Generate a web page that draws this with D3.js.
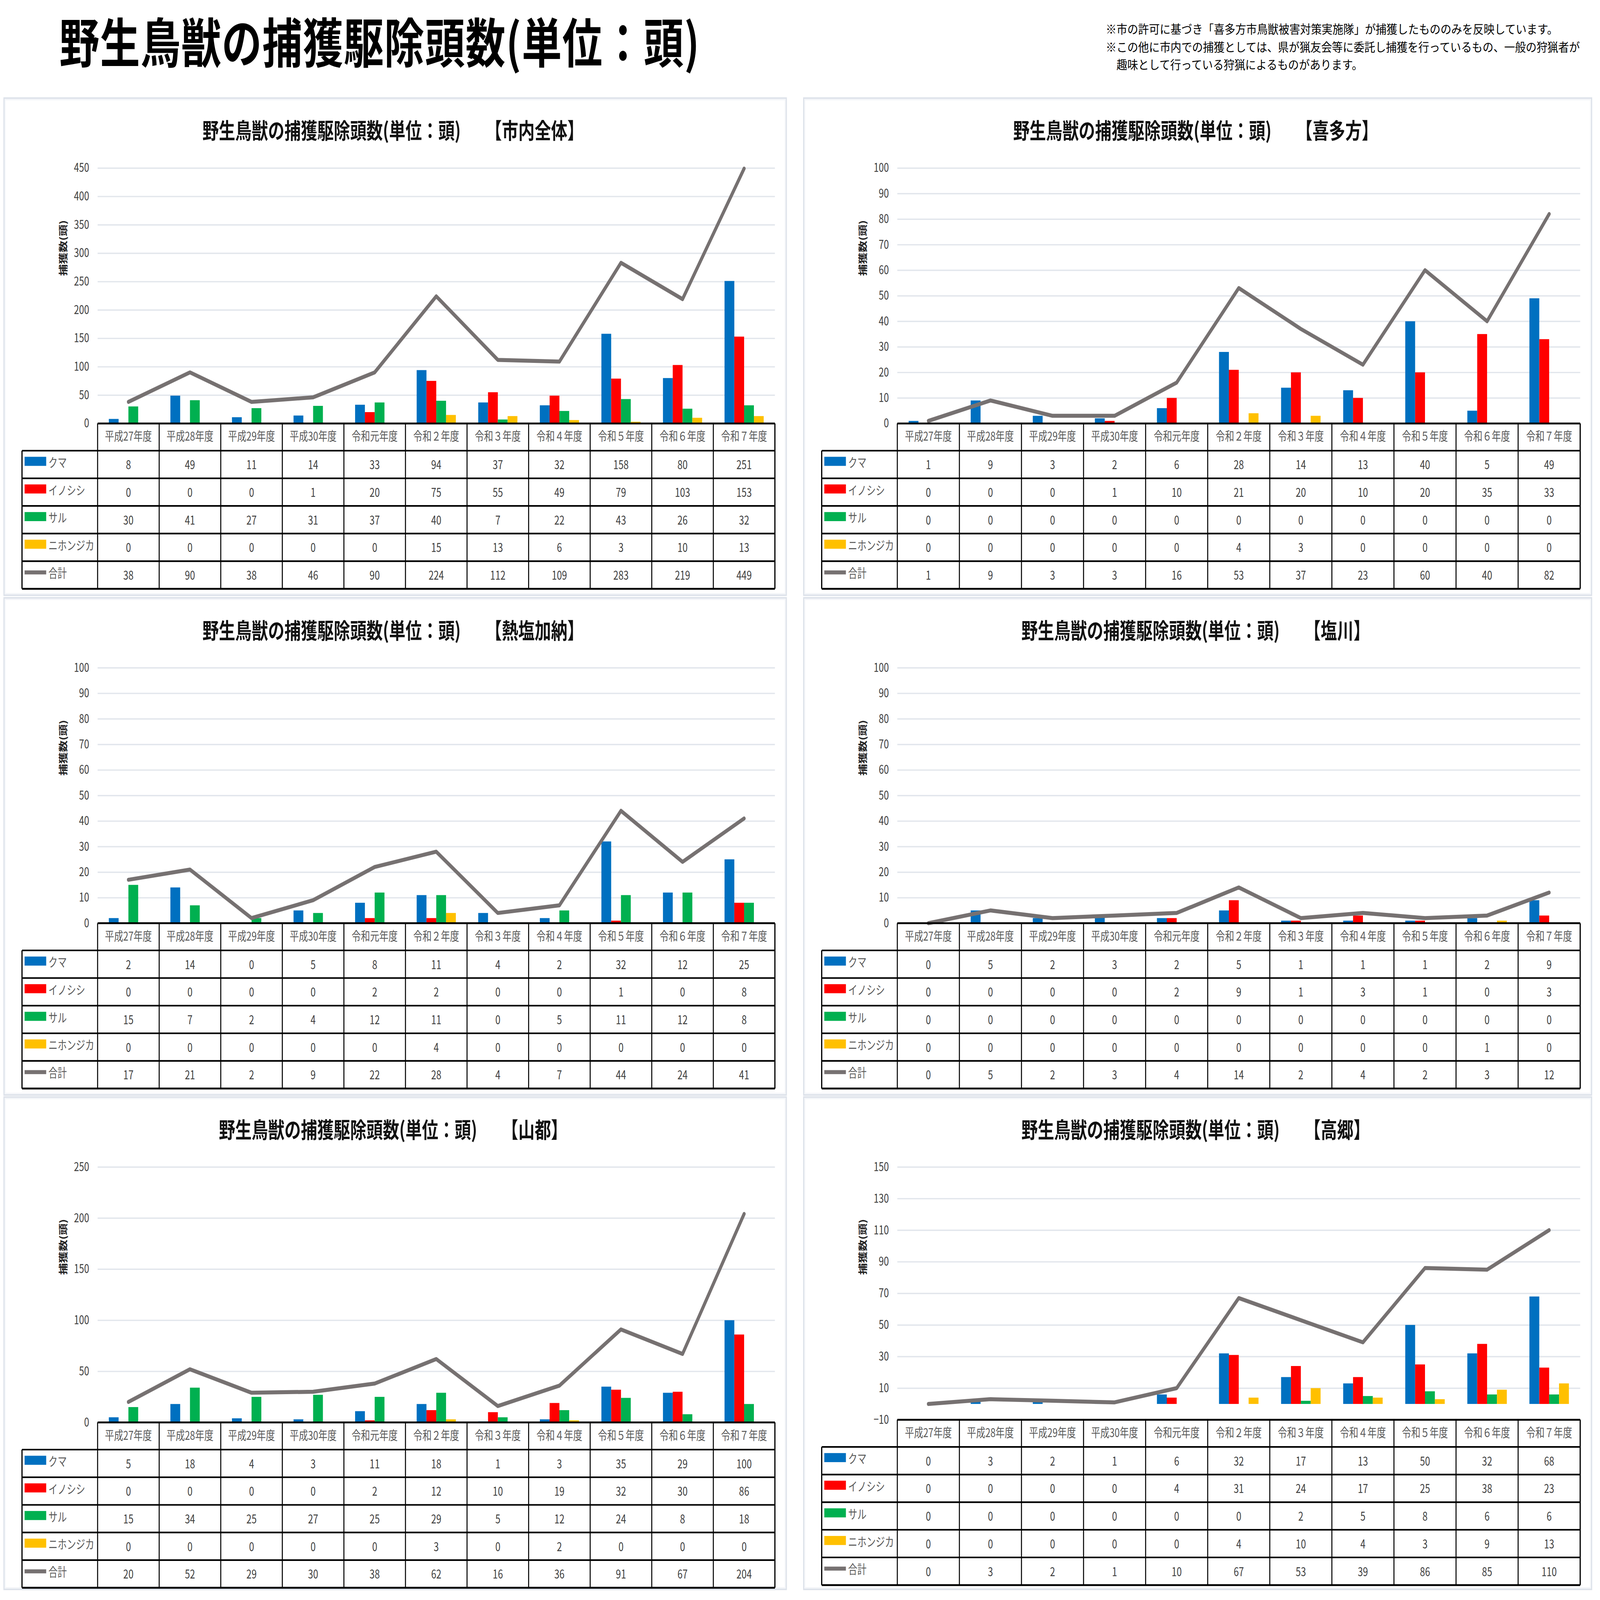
<!DOCTYPE html>
<html lang="ja">
<head>
<meta charset="utf-8">
<script src="https://cdn.jsdelivr.net/npm/d3@7/dist/d3.min.js"></script>
<style>
  html, body { margin: 0; padding: 0; background: #fff; width: 100%; height: 100%; overflow: hidden; }
  svg { display: block; width: 100vw; height: 100vh; }
  text { font-family: "Noto Sans CJK JP", "Noto Sans", sans-serif; }
</style>
</head>
<body>
<svg id="chart" viewBox="0 0 7999 6000" preserveAspectRatio="none"></svg>
<script>
// ---------- DATA ----------
const categories = ["平成27年度","平成28年度","平成29年度","平成30年度","令和元年度","令和２年度","令和３年度","令和４年度","令和５年度","令和６年度","令和７年度"];
const seriesNames = ["クマ","イノシシ","サル","ニホンジカ"];
const totalName = "合計";

const mainTitle = "野生鳥獣の捕獲駆除頭数(単位：頭)";
const panelTitleBase = "野生鳥獣の捕獲駆除頭数(単位：頭)";
const yAxisTitle = "捕獲数(頭)";
const notes = [
  "※市の許可に基づき「喜多方市鳥獣被害対策実施隊」が捕獲したもののみを反映しています。",
  "※この他に市内での捕獲としては、県が猟友会等に委託し捕獲を行っているもの、一般の狩猟者が",
  "　趣味として行っている狩猟によるものがあります。"
];

// 市内全体
const zentaiKuma     = [8,49,11,14,33,94,37,32,158,80,251];
const zentaiInoshishi= [0,0,0,1,20,75,55,49,79,103,153];
const zentaiSaru     = [30,41,27,31,37,40,7,22,43,26,32];
const zentaiShika    = [0,0,0,0,0,15,13,6,3,10,13];
const zentaiTotal    = [38,90,38,46,90,224,112,109,283,219,449];
const zentaiTicks    = [0,50,100,150,200,250,300,350,400,450];

// 喜多方
const kitakataKuma     = [1,9,3,2,6,28,14,13,40,5,49];
const kitakataInoshishi= [0,0,0,1,10,21,20,10,20,35,33];
const kitakataSaru     = [0,0,0,0,0,0,0,0,0,0,0];
const kitakataShika    = [0,0,0,0,0,4,3,0,0,0,0];
const kitakataTotal    = [1,9,3,3,16,53,37,23,60,40,82];
const kitakataTicks    = [0,10,20,30,40,50,60,70,80,90,100];

// 熱塩加納
const atsushioKuma     = [2,14,0,5,8,11,4,2,32,12,25];
const atsushioInoshishi= [0,0,0,0,2,2,0,0,1,0,8];
const atsushioSaru     = [15,7,2,4,12,11,0,5,11,12,8];
const atsushioShika    = [0,0,0,0,0,4,0,0,0,0,0];
const atsushioTotal    = [17,21,2,9,22,28,4,7,44,24,41];
const atsushioTicks    = [0,10,20,30,40,50,60,70,80,90,100];

// 塩川
const shiokawaKuma     = [0,5,2,3,2,5,1,1,1,2,9];
const shiokawaInoshishi= [0,0,0,0,2,9,1,3,1,0,3];
const shiokawaSaru     = [0,0,0,0,0,0,0,0,0,0,0];
const shiokawaShika    = [0,0,0,0,0,0,0,0,0,1,0];
const shiokawaTotal    = [0,5,2,3,4,14,2,4,2,3,12];
const shiokawaTicks    = [0,10,20,30,40,50,60,70,80,90,100];

// 山都
const yamatoKuma     = [5,18,4,3,11,18,1,3,35,29,100];
const yamatoInoshishi= [0,0,0,0,2,12,10,19,32,30,86];
const yamatoSaru     = [15,34,25,27,25,29,5,12,24,8,18];
const yamatoShika    = [0,0,0,0,0,3,0,2,0,0,0];
const yamatoTotal    = [20,52,29,30,38,62,16,36,91,67,204];
const yamatoTicks    = [0,50,100,150,200,250];

// 高郷
const takasatoKuma     = [0,3,2,1,6,32,17,13,50,32,68];
const takasatoInoshishi= [0,0,0,0,4,31,24,17,25,38,23];
const takasatoSaru     = [0,0,0,0,0,0,2,5,8,6,6];
const takasatoShika    = [0,0,0,0,0,4,10,4,3,9,13];
const takasatoTotal    = [0,3,2,1,10,67,53,39,86,85,110];
const takasatoTicks    = [-10,10,30,50,70,90,110,130,150];

// ---------- STYLE ----------
const seriesColors = ["#0070c0","#ff0000","#00b050","#ffc000"];
const lineColor = "#767171";

const panels = [
  { name:"【市内全体】", col:0, row:0, series:[zentaiKuma,zentaiInoshishi,zentaiSaru,zentaiShika], total:zentaiTotal, ticks:zentaiTicks },
  { name:"【喜多方】",   col:1, row:0, series:[kitakataKuma,kitakataInoshishi,kitakataSaru,kitakataShika], total:kitakataTotal, ticks:kitakataTicks },
  { name:"【熱塩加納】", col:0, row:1, series:[atsushioKuma,atsushioInoshishi,atsushioSaru,atsushioShika], total:atsushioTotal, ticks:atsushioTicks },
  { name:"【塩川】",     col:1, row:1, series:[shiokawaKuma,shiokawaInoshishi,shiokawaSaru,shiokawaShika], total:shiokawaTotal, ticks:shiokawaTicks },
  { name:"【山都】",     col:0, row:2, series:[yamatoKuma,yamatoInoshishi,yamatoSaru,yamatoShika], total:yamatoTotal, ticks:yamatoTicks },
  { name:"【高郷】",     col:1, row:2, series:[takasatoKuma,takasatoInoshishi,takasatoSaru,takasatoShika], total:takasatoTotal, ticks:takasatoTicks, bottomShift:-10 }
];

const colX = [20, 4018];
const colW = [3911, 3939];
const rowY = [368, 2242, 4114];
const rowH = [1864, 1864, 1846];

const svg = d3.select("#chart");

// main title
svg.append("text")
  .attr("x", 297).attr("y", 236)
  .attr("font-size", 200).attr("font-weight", 700).attr("fill", "#000")
  .attr("letter-spacing", 3)
  .text(mainTitle);

// notes (slightly widened glyphs, as in the reference)
svg.append("g").attr("transform", "translate(5528,0) scale(1.2,1)")
  .selectAll("text").data(notes).join("text")
  .attr("x", 0).attr("y", (d,i) => 126 + i*67)
  .attr("font-size", 45).attr("fill", "#000")
  .text(d => d);

panels.forEach(p => {
  const x0 = colX[p.col], y0 = rowY[p.row], w = colW[p.col], h = rowH[p.row];
  const g = svg.append("g");

  // panel frame
  g.append("rect").attr("x", x0).attr("y", y0).attr("width", w).attr("height", h)
    .attr("fill", "#fff").attr("stroke", "#dde2ea").attr("stroke-width", 6);
  g.append("rect").attr("x", x0+6).attr("y", y0+6).attr("width", w-12).attr("height", h-12)
    .attr("fill", "none").attr("stroke", "#f3f5f8").attr("stroke-width", 4);

  const plotLeft = x0 + 468;
  const plotRight = x0 + w - 57;
  const tableLeft = x0 + 90;
  const plotTop = y0 + 262;
  const plotBottom = y0 + 1220 + (p.bottomShift || 0);
  const headerH = 102, rowHt = 103.6;

  // title
  g.append("text")
    .attr("x", x0 + w/2 - 10).attr("y", y0 + 117)
    .attr("text-anchor", "middle").attr("dominant-baseline", "central")
    .attr("font-size", 82).attr("font-weight", 700).attr("fill", "#111")
    .text(panelTitleBase + "　　" + p.name);

  // scales
  const x = d3.scaleBand().domain(categories).range([plotLeft, plotRight]).padding(0);
  const bw = x.bandwidth();
  const xs = d3.scaleBand().domain(seriesNames).range([bw*0.182, bw*0.818]).padding(0);
  const yMin = p.ticks[0], yMax = p.ticks[p.ticks.length-1];
  const y = d3.scaleLinear().domain([yMin, yMax]).range([plotBottom, plotTop]);

  // gridlines + tick labels
  const yAxis = d3.axisLeft(y).tickValues(p.ticks).tickSize(-(plotRight - plotLeft)).tickPadding(42).tickFormat(d3.format("d"));
  const ag = g.append("g").attr("transform", `translate(${plotLeft},0)`).call(yAxis);
  ag.select(".domain").remove();
  ag.selectAll(".tick line").attr("stroke", "#e2e6ec").attr("stroke-width", 5);
  ag.selectAll(".tick text").attr("font-size", 46).attr("fill", "#404040")
    .attr("font-family", "\"Noto Sans CJK JP\", sans-serif");

  // y axis title
  g.append("text")
    .attr("transform", `translate(${x0 + 292},${y0 + 562}) rotate(-90)`)
    .attr("text-anchor", "middle").attr("dominant-baseline", "central")
    .attr("font-size", 44).attr("font-weight", 700).attr("fill", "#222")
    .text(yAxisTitle);

  // bars
  const barData = [];
  p.series.forEach((arr, si) => arr.forEach((v, ci) => barData.push({ s: seriesNames[si], c: categories[ci], v, color: seriesColors[si] })));
  g.append("g").selectAll("rect").data(barData.filter(d => d.v !== 0)).join("rect")
    .attr("x", d => x(d.c) + xs(d.s))
    .attr("width", xs.bandwidth())
    .attr("y", d => Math.min(y(d.v), y(0)))
    .attr("height", d => Math.abs(y(0) - y(d.v)))
    .attr("fill", d => d.color);

  // total line
  const line = d3.line().x((d,i) => x(categories[i]) + bw/2).y(d => y(d));
  g.append("path").datum(p.total).attr("d", line)
    .attr("fill", "none").attr("stroke", lineColor).attr("stroke-width", 15)
    .attr("stroke-linejoin", "round").attr("stroke-linecap", "round");

  // data table
  const headerTop = plotBottom;
  const bodyTop = headerTop + headerH;
  const tableBottom = bodyTop + rowHt * 5;
  const tg = g.append("g");

  // header labels
  tg.selectAll("text.cat").data(categories).join("text").attr("class", "cat")
    .attr("x", d => x(d) + bw/2).attr("y", headerTop + headerH/2 - 6)
    .attr("text-anchor", "middle").attr("dominant-baseline", "central")
    .attr("font-size", 46).attr("fill", "#595959").text(d => d);

  const rows = seriesNames.map((n, i) => ({ name: n, values: p.series[i], color: seriesColors[i], isLine: false }))
    .concat([{ name: totalName, values: p.total, color: lineColor, isLine: true }]);

  rows.forEach((r, ri) => {
    const rt = bodyTop + ri * rowHt;
    if (r.isLine) {
      tg.append("line").attr("x1", tableLeft + 13).attr("x2", tableLeft + 121)
        .attr("y1", rt + 42).attr("y2", rt + 42)
        .attr("stroke", r.color).attr("stroke-width", 15);
    } else {
      tg.append("rect").attr("x", tableLeft + 13).attr("y", rt + 23)
        .attr("width", 108).attr("height", 34).attr("fill", r.color);
    }
    tg.append("text").attr("x", tableLeft + 132).attr("y", rt + 42)
      .attr("dominant-baseline", "central").attr("font-size", 46).attr("fill", "#595959")
      .text(r.name);
    tg.selectAll(null).data(r.values).join("text")
      .attr("x", (d,i) => x(categories[i]) + bw/2).attr("y", rt + rowHt/2 - 2)
      .attr("text-anchor", "middle").attr("dominant-baseline", "central")
      .attr("font-size", 46).attr("fill", "#404040").text(d => d);
  });

  // table grid lines
  tg.append("line").attr("x1", plotLeft).attr("x2", plotRight).attr("y1", headerTop).attr("y2", headerTop)
    .attr("stroke", "#000").attr("stroke-width", 7);
  for (let i = 0; i <= 5; i++) {
    const yy = bodyTop + i * rowHt;
    tg.append("line").attr("x1", tableLeft).attr("x2", plotRight).attr("y1", yy).attr("y2", yy)
      .attr("stroke", "#000").attr("stroke-width", i === 5 ? 7 : 6);
  }
  categories.forEach(c => {
    tg.append("line").attr("x1", x(c)).attr("x2", x(c)).attr("y1", headerTop).attr("y2", tableBottom)
      .attr("stroke", "#000").attr("stroke-width", 5);
  });
  tg.append("line").attr("x1", plotRight).attr("x2", plotRight).attr("y1", headerTop).attr("y2", tableBottom)
    .attr("stroke", "#000").attr("stroke-width", 6);
  tg.append("line").attr("x1", tableLeft).attr("x2", tableLeft).attr("y1", bodyTop).attr("y2", tableBottom)
    .attr("stroke", "#000").attr("stroke-width", 6);
});
</script>
</body>
</html>
